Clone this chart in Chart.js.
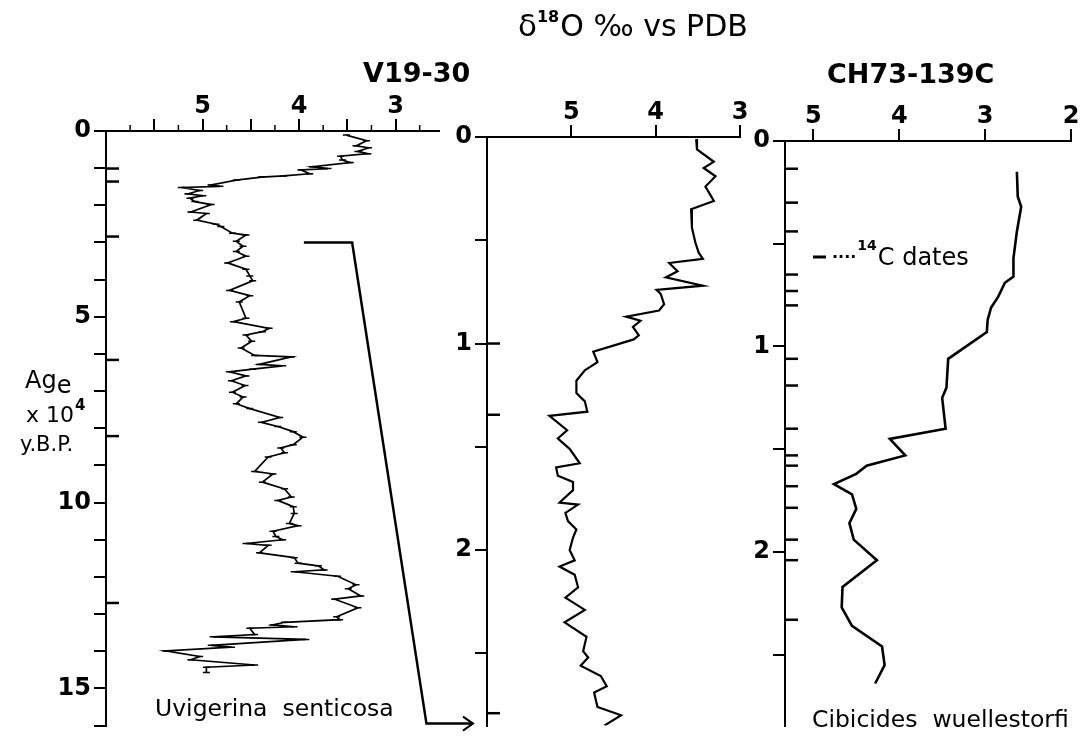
<!DOCTYPE html>
<html>
<head>
<meta charset="utf-8">
<script src="https://cdn.jsdelivr.net/npm/chart.js@4"></script>
<style>
  body { margin: 0; background: #fff; width: 1087px; height: 743px; position: relative; overflow: hidden; }
  canvas { position: absolute; top: 0; }
</style>
</head>
<body>
<canvas id="left" width="450" height="743" style="left:0"></canvas>
<canvas id="mid" width="310" height="743" style="left:445px"></canvas>
<canvas id="right" width="342" height="743" style="left:745px"></canvas>
<canvas id="over" width="1087" height="743" style="left:0;pointer-events:none"></canvas>
<script>
// V19-30, Uvigerina senticosa: age (x10^4 y.B.P.) and d18O (per mil vs PDB)
const ageV1930U = [0.11,0.26,0.40,0.45,0.55,0.61,0.68,0.78,0.85,0.96,1.01,1.05,1.15,1.21,1.24,1.32,1.45,1.49,1.52,1.60,
  1.69,1.74,1.81,1.90,1.98,2.18,2.22,2.40,2.51,2.57,2.75,2.80,2.97,3.10,3.24,3.37,3.55,3.72,3.90,4.03,
  4.29,4.43,4.60,5.04,5.13,5.31,5.40,5.49,5.66,5.84,6.04,6.08,6.28,6.32,6.41,6.48,6.59,6.72,6.85,7.03,
  7.16,7.34,7.47,7.71,7.84,7.95,8.09,8.24,8.44,8.53,8.66,8.77,9.16,9.23,9.45,9.63,9.85,9.94,10.11,10.29,
  10.56,10.62,10.77,10.91,11.00,11.10,11.15,11.35,11.48,11.63,11.70,11.81,11.86,11.98,12.21,12.32,12.51,12.60,12.83,13.07,
  13.15,13.22,13.29,13.34,13.38,13.55,13.61,13.68,13.84,13.89,13.99,14.14,14.23,14.37,14.43,14.57];
const o18V1930U = [3.51,3.30,3.41,3.28,3.39,3.29,3.57,3.55,3.47,3.86,3.70,3.98,3.89,4.16,4.39,4.65,4.91,4.82,5.22,5.03,
  5.15,5.00,5.13,5.08,4.91,5.12,4.96,5.06,4.86,4.81,4.69,4.55,4.65,4.58,4.65,4.55,4.74,4.55,4.51,4.48,
  4.72,4.51,4.62,4.55,4.68,4.31,4.38,4.55,4.49,4.60,4.46,4.08,4.41,4.17,4.48,4.72,4.55,4.70,4.56,4.69,
  4.58,4.65,4.51,4.20,4.39,4.22,4.06,3.96,4.06,4.19,4.15,4.32,4.46,4.27,4.38,4.15,4.08,4.22,4.06,4.05,
  4.10,4.01,4.27,4.24,4.17,4.55,4.32,4.41,4.05,4.01,3.80,3.74,4.05,3.60,3.41,3.49,3.36,3.63,3.39,3.61,
  3.58,4.15,4.27,4.05,4.51,4.46,4.89,3.93,4.91,4.70,5.38,5.03,5.12,4.46,4.96,4.96];

// V19-30 upper part: depth (m) and d18O
const depthV1930 = [0.01,0.06,0.12,0.15,0.19,0.24,0.31,0.35,0.44,0.51,0.56,0.59,0.61,0.65,0.68,0.72,0.74,0.76,0.81,0.84,
  0.87,0.89,0.92,0.96,0.98,1.04,1.09,1.13,1.18,1.24,1.28,1.33,1.35,1.42,1.46,1.51,1.58,1.60,1.64,1.67,
  1.71,1.77,1.78,1.82,1.86,1.90,1.94,2.00,2.05,2.08,2.12,2.18,2.23,2.29,2.35,2.42,2.49,2.52,2.56,2.61,
  2.66,2.69,2.76,2.80,2.85];
const o18V1930 = [3.52,3.51,3.31,3.43,3.29,3.41,3.31,3.58,3.57,3.53,3.49,3.44,3.84,3.74,3.88,3.44,3.99,3.94,3.90,3.96,
  4.35,4.18,4.27,4.20,4.26,4.74,4.69,4.84,4.94,4.94,4.84,4.81,5.26,5.05,5.16,5.02,4.90,5.18,5.16,4.98,
  4.98,5.14,4.92,5.07,5.04,4.94,4.98,5.02,4.96,5.14,4.96,4.92,5.07,4.84,5.08,4.82,4.86,4.80,4.89,4.65,
  4.58,4.73,4.69,4.41,4.61];

// CH73-139C, Cibicides wuellestorfi: depth (m) and d18O
const depthCH73 = [0.15,0.27,0.32,0.44,0.57,0.66,0.69,0.76,0.81,0.87,0.93,1.06,1.20,1.25,1.40,1.45,1.53,1.58,1.62,1.67,
  1.72,1.79,1.86,1.94,2.04,2.17,2.27,2.36,2.46,2.55,2.64];
const o18CH73 = [2.63,2.62,2.58,2.63,2.67,2.67,2.77,2.85,2.93,2.97,2.98,3.43,3.45,3.50,3.46,4.11,3.93,4.38,4.50,4.76,
  4.55,4.50,4.58,4.53,4.26,4.66,4.67,4.55,4.20,4.17,4.28];

// 14C date marks
const datesV1930U = [1.01,1.36,2.84,6.16,8.21,12.7];
const datesV1930 = [1.0,1.345,2.79];
const datesCH73 = [0.135,0.30,0.44,0.65,0.73,0.80,1.06,1.19,1.40,1.53,1.58,1.68,1.785,1.94,2.04,2.33];

// tick values
const leftXTicks = [5.5,5,4.5,4,3.5,3];
const leftXMinor = [5.75,5.25,4.75,4.25,3.75,3.25,2.75];
const leftYTicks = [0,1,2,3,4,5,6,7,8,9,10,11,12,13,14,15,16];
const midXTicks = [5,4,3];
const midYTicks = [0,0.5,1,1.5,2,2.5];
const rightXTicks = [5,4,3,2];
const rightYTicks = [0,0.5,1,1.5,2,2.5];

const tickFont = { family: 'DejaVu Sans', size: 24, weight: 'bold' };

// 14C date ticks and minor ticks
const marks = {
  id: 'marks',
  afterDraw(chart, args, opts) {
    const ctx = chart.ctx, a = chart.chartArea;
    ctx.save();
    ctx.strokeStyle = '#000';
    ctx.lineWidth = 2.5;
    opts.dates.forEach(d => {
      const y = chart.scales.y.getPixelForValue(d);
      ctx.beginPath(); ctx.moveTo(a.left, y); ctx.lineTo(a.left + 13, y); ctx.stroke();
    });
    ctx.lineWidth = 1.5;
    (opts.minor || []).forEach(v => {
      const x = chart.scales.x.getPixelForValue(v);
      ctx.beginPath(); ctx.moveTo(x, a.top); ctx.lineTo(x, a.top - 6); ctx.stroke();
    });
    ctx.restore();
  }
};

function makeChart(id, xs, ys, o) {
  return new Chart(document.getElementById(id), {
    type: 'scatter',
    data: {
      datasets: [{
        data: xs.map((x, i) => ({ x: x, y: ys[i] })),
        showLine: true,
        borderColor: '#000',
        borderWidth: o.lw,
        pointRadius: o.pr,
        pointStyle: 'line',
        pointBorderColor: '#000',
        pointBorderWidth: 1.5
      }]
    },
    options: {
      responsive: false,
      animation: false,
      events: [],
      layout: { padding: o.pad },
      plugins: {
        legend: { display: false },
        tooltip: { enabled: false },
        marks: { dates: o.dates, minor: o.minor }
      },
      scales: {
        x: {
          type: 'linear', position: 'top', reverse: true, min: o.xmin, max: o.xmax,
          afterBuildTicks: a => { a.ticks = o.xt.map(v => ({ value: v })); },
          afterFit: a => { a.height = o.xh; },
          ticks: { font: tickFont, color: '#000', padding: o.xpad, autoSkip: false, maxRotation: 0,
                   callback: v => Number.isInteger(v) ? String(v) : '' },
          grid: { drawOnChartArea: false, tickLength: 12, color: '#000', lineWidth: 2 },
          border: { color: '#000', width: 2 }
        },
        y: {
          type: 'linear', reverse: true, min: 0, max: o.ymax,
          afterBuildTicks: a => { a.ticks = o.yt.map(v => ({ value: v })); },
          afterFit: a => { a.width = o.yw; },
          ticks: { font: tickFont, color: '#000', padding: 3, autoSkip: false,
                   callback: o.ylab },
          grid: { drawOnChartArea: false, tickLength: 12, color: '#000', lineWidth: 2 },
          border: { color: '#000', width: 2 }
        }
      }
    },
    plugins: [marks]
  });
}

const leftChart = makeChart('left', o18V1930U, ageV1930U, {
  lw: 1.7, pr: 3.5, pad: { left: 0, top: 0, right: 11, bottom: 8 },
  xmin: 2.55, xmax: 6.0, xt: leftXTicks, minor: leftXMinor, xh: 131, xpad: -2,
  ymax: 16, yt: leftYTicks, yw: 106, dates: datesV1930U,
  ylab: v => v % 5 === 0 ? String(v) : ''
});
const midChart = makeChart('mid', o18V1930, depthV1930, {
  lw: 2.2, pr: 0, pad: { left: 0, top: 0, right: 15, bottom: 10 },
  xmin: 3, xmax: 6, xt: midXTicks, minor: [], xh: 137, xpad: -2,
  ymax: 2.85, yt: midYTicks, yw: 42, dates: datesV1930,
  ylab: v => Number.isInteger(v) ? String(v) : ''
});
const rightChart = makeChart('right', o18CH73, depthCH73, {
  lw: 2.6, pr: 0, pad: { left: 0, top: 0, right: 16, bottom: 6 },
  xmin: 2, xmax: 5.33, xt: rightXTicks, minor: [], xh: 141, xpad: -2,
  ymax: 2.845, yt: rightYTicks, yw: 40, dates: datesCH73,
  ylab: v => Number.isInteger(v) ? String(v) : ''
});

// texts and the link between the two V19-30 plots
const ctx = document.getElementById('over').getContext('2d');
ctx.fillStyle = '#000';
ctx.strokeStyle = '#000';

function txt(s, x, y, size, weight) {
  ctx.font = (weight || 'normal') + ' ' + size + 'px "DejaVu Sans"';
  ctx.fillText(s, x, y);
  return x + ctx.measureText(s).width;
}

let x = txt('\u03B4', 518, 36, 31);
x = txt('18', x, 22, 16, 'bold');
txt('O \u2030 vs PDB', x + 1, 36, 30);

txt('V19-30', 363, 82, 27, 'bold');
txt('CH73-139C', 827, 83, 27, 'bold');

txt('Uvigerina  senticosa', 155, 716, 23.5);
txt('Cibicides  wuellestorfi', 812, 727, 23.5);

x = txt('Ag', 25, 388, 24);
txt('e', x, 393, 24);
x = txt('x 10', 26, 422, 22);
txt('4', x + 1, 410, 15, 'bold');
txt('y.B.P.', 20, 451, 21);

// 14C legend
ctx.lineWidth = 3;
ctx.beginPath(); ctx.moveTo(813, 257); ctx.lineTo(826, 257); ctx.stroke();
x = txt('\u00B7\u00B7\u00B7\u00B7', 832, 262, 16, 'bold');
x = txt('14', x + 1, 250, 14, 'bold');
txt('C dates', x + 1, 265, 24);

// connector: age 3 on the left record -> base of the middle record
const lx = leftChart.scales.x, ly = leftChart.scales.y;
const midLeft = 445 + midChart.chartArea.left;
const yEnd = midChart.scales.y.getPixelForValue(2.85) - 2;
ctx.lineWidth = 2.5;
ctx.beginPath();
ctx.moveTo(lx.getPixelForValue(3.95), ly.getPixelForValue(3));
ctx.lineTo(lx.getPixelForValue(3.45), ly.getPixelForValue(3));
ctx.lineTo(lx.getPixelForValue(2.68), yEnd);
ctx.lineTo(midLeft - 14, yEnd);
ctx.stroke();
ctx.lineWidth = 2;
ctx.beginPath();
ctx.moveTo(midLeft - 24, yEnd - 7);
ctx.lineTo(midLeft - 14, yEnd);
ctx.lineTo(midLeft - 24, yEnd + 7);
ctx.stroke();
</script>
</body>
</html>
